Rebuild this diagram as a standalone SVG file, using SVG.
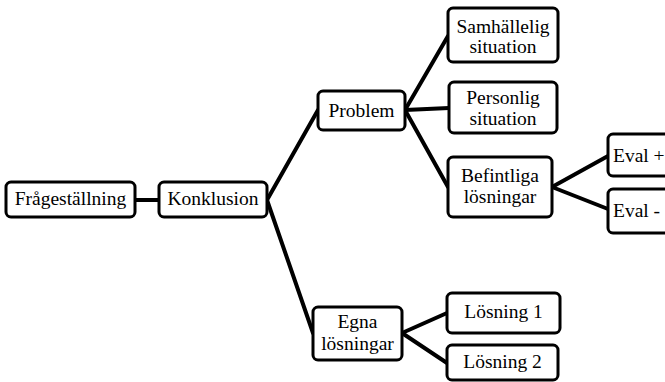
<svg xmlns="http://www.w3.org/2000/svg" width="665" height="382" viewBox="0 0 665 382">
  <style>
    .box { fill: #ffffff; stroke: #000000; stroke-width: 3; }
    .link { stroke: #000000; stroke-width: 4; fill: none; stroke-linecap: round; }
    .lbl { font-family: 'Liberation Serif', 'DejaVu Serif', serif; font-size: 19.5px; fill: #000000; text-anchor: middle; }
    .left { text-anchor: start; }
  </style>
  <rect width="665" height="382" fill="#ffffff"/>

  <!-- connectors -->
  <g id="connectors">
    <line class="link" x1="135" y1="200" x2="159" y2="200"/>
    <line class="link" x1="267" y1="200" x2="318" y2="110"/>
    <line class="link" x1="267" y1="200" x2="313" y2="333"/>
    <line class="link" x1="405" y1="110" x2="448" y2="36"/>
    <line class="link" x1="405" y1="110" x2="449" y2="108"/>
    <line class="link" x1="405" y1="110" x2="448" y2="187"/>
    <line class="link" x1="552" y1="187" x2="608" y2="156"/>
    <line class="link" x1="552" y1="187" x2="608" y2="209"/>
    <line class="link" x1="402" y1="333" x2="447" y2="313"/>
    <line class="link" x1="402" y1="333" x2="447" y2="363"/>
  </g>

  <g id="fragestallning">
    <rect class="box" x="6" y="182" width="129" height="35" rx="5"/>
    <text class="lbl" font-family="Liberation Serif, serif" x="70.5" y="205">Frågeställning</text>
  </g>
  <g id="konklusion">
    <rect class="box" x="159" y="182" width="108" height="35" rx="5"/>
    <text class="lbl" font-family="Liberation Serif, serif" x="213" y="205">Konklusion</text>
  </g>
  <g id="problem">
    <rect class="box" x="318" y="91" width="87" height="39" rx="5"/>
    <text class="lbl" font-family="Liberation Serif, serif" x="361.5" y="117">Problem</text>
  </g>
  <g id="samhallelig">
    <rect class="box" x="448" y="8" width="110" height="54" rx="5"/>
    <text class="lbl" font-family="Liberation Serif, serif" x="503" y="33">Samhällelig</text>
    <text class="lbl" font-family="Liberation Serif, serif" x="503" y="53">situation</text>
  </g>
  <g id="personlig">
    <rect class="box" x="449" y="82" width="108" height="51" rx="5"/>
    <text class="lbl" font-family="Liberation Serif, serif" x="503" y="104">Personlig</text>
    <text class="lbl" font-family="Liberation Serif, serif" x="503" y="125">situation</text>
  </g>
  <g id="befintliga">
    <rect class="box" x="448" y="157" width="104" height="60" rx="5"/>
    <text class="lbl" font-family="Liberation Serif, serif" x="500" y="182">Befintliga</text>
    <text class="lbl" font-family="Liberation Serif, serif" x="500" y="203">lösningar</text>
  </g>
  <g id="eval-plus">
    <rect class="box" x="608" y="134" width="80" height="42" rx="5"/>
    <text class="lbl left" font-family="Liberation Serif, serif" x="613" y="162">Eval +</text>
  </g>
  <g id="eval-minus">
    <rect class="box" x="608" y="189" width="80" height="44" rx="5"/>
    <text class="lbl left" font-family="Liberation Serif, serif" x="613" y="217">Eval -</text>
  </g>
  <g id="egna">
    <rect class="box" x="313" y="307" width="89" height="53" rx="5"/>
    <text class="lbl" font-family="Liberation Serif, serif" x="357.5" y="328">Egna</text>
    <text class="lbl" font-family="Liberation Serif, serif" x="357.5" y="350">lösningar</text>
  </g>
  <g id="losning1">
    <rect class="box" x="447" y="293" width="113" height="40" rx="5"/>
    <text class="lbl" font-family="Liberation Serif, serif" x="503.5" y="318">Lösning 1</text>
  </g>
  <g id="losning2">
    <rect class="box" x="447" y="345" width="111" height="35" rx="5"/>
    <text class="lbl" font-family="Liberation Serif, serif" x="502.5" y="368">Lösning 2</text>
  </g>
</svg>
